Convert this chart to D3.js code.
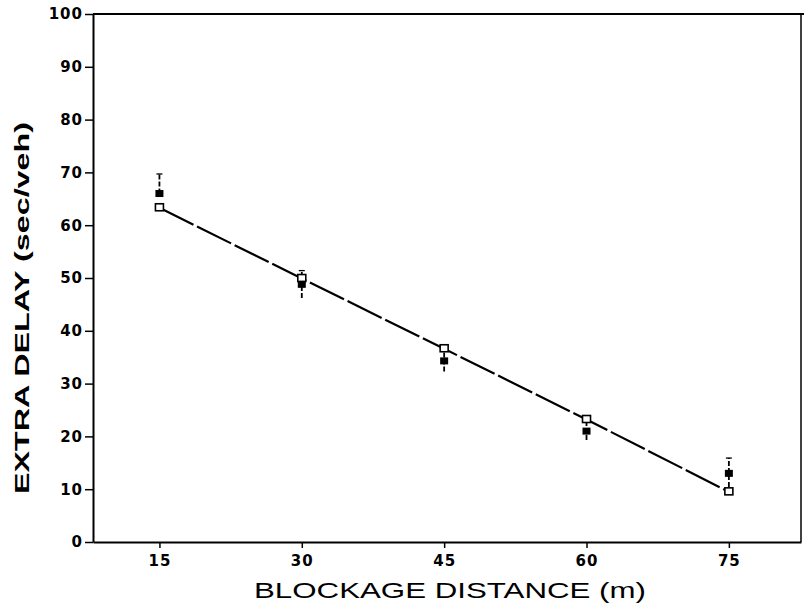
<!DOCTYPE html>
<html><head><meta charset="utf-8">
<script src="https://cdn.jsdelivr.net/npm/d3@7"></script>
<style>body{margin:0;background:#fff;} svg{display:block;}</style>
</head><body>
<svg id="c" width="804" height="606"></svg>
<script>
const distances = [15, 30, 45, 60, 75];
const modelDelay = [63.3, 49.9, 36.6, 23.2, 9.5];
const observedDelay = [66.0, 48.8, 34.3, 21.0, 13.0];
const errLow = [66.0, 46.2, 32.3, 19.3, 10.4];
const errHigh = [69.7, 51.4, 36.6, 23.4, 15.9];
const xTicks = [15, 30, 45, 60, 75];
const yTicks = [0, 10, 20, 30, 40, 50, 60, 70, 80, 90, 100];

const svg = d3.select("#c");
const L = 93, R = 801, T = 14, B = 542;
const x = d3.scaleLinear().domain([8, 82.6]).range([L, R]);
const y = d3.scaleLinear().domain([0, 100]).range([B, T]);
const font = "'Liberation Sans', Arial, sans-serif";
const tickFont = "'DejaVu Sans', sans-serif";

// frame
svg.append("line").attr("x1", L).attr("x2", 804).attr("y1", T).attr("y2", T).attr("stroke", "#000").attr("stroke-width", 2);
svg.append("line").attr("x1", R).attr("x2", R).attr("y1", T).attr("y2", B).attr("stroke", "#000").attr("stroke-width", 1.5);

const gx = svg.append("g").attr("transform", `translate(0,${B})`)
  .call(d3.axisBottom(x).tickValues(xTicks).tickSize(6).tickSizeOuter(0).tickPadding(7));
const gy = svg.append("g").attr("transform", `translate(${L},0)`)
  .call(d3.axisLeft(y).tickValues(yTicks).tickSize(8).tickSizeOuter(0).tickPadding(2));
[gx, gy].forEach(g => {
  g.select(".domain").attr("stroke", "#000").attr("stroke-width", 2);
  g.selectAll(".tick line").attr("stroke", "#000").attr("stroke-width", 1.5);
  g.selectAll(".tick text").attr("fill", "#000").attr("font-family", tickFont)
    .attr("font-size", 15).attr("font-weight", "bold").attr("letter-spacing", 1);
});

// model line (dashed)
const pts = distances.map((d, i) => [x(d), y(modelDelay[i])]);
svg.append("path").attr("d", d3.line()(pts)).attr("fill", "none")
  .attr("stroke", "#000").attr("stroke-width", 2.2).attr("stroke-dasharray", "38,4");

// error bars
distances.forEach((d, i) => {
  svg.append("line").attr("x1", x(d)).attr("x2", x(d)).attr("y1", y(errLow[i])).attr("y2", y(errHigh[i]))
    .attr("stroke", "#000").attr("stroke-width", 1.8).attr("stroke-dasharray", "5,2");
  svg.append("line").attr("x1", x(d) - 3).attr("x2", x(d) + 3).attr("y1", y(errHigh[i])).attr("y2", y(errHigh[i]))
    .attr("stroke", "#000").attr("stroke-width", 1.3);
});

// model markers (open squares)
svg.selectAll("rect.m").data(distances).enter().append("rect")
  .attr("x", d => x(d) - 4).attr("y", (d, i) => y(modelDelay[i]) - 4)
  .attr("width", 8).attr("height", 7).attr("fill", "#fff").attr("stroke", "#000").attr("stroke-width", 1.6);

// observed markers (filled squares)
svg.selectAll("rect.o").data(distances).enter().append("rect")
  .attr("x", d => x(d) - 4).attr("y", (d, i) => y(observedDelay[i]) - 3.5)
  .attr("width", 8).attr("height", 7).attr("fill", "#000");

// axis titles
svg.append("text").attr("x", 450).attr("y", 598).attr("text-anchor", "middle")
  .attr("font-family", font).attr("font-size", 22)
  .attr("textLength", 392).attr("lengthAdjust", "spacingAndGlyphs").text("BLOCKAGE DISTANCE (m)");
svg.append("text").attr("transform", "translate(29,308) rotate(-90)").attr("text-anchor", "middle")
  .attr("font-family", font).attr("font-size", 20).attr("font-weight", "bold")
  .attr("textLength", 372).attr("lengthAdjust", "spacingAndGlyphs").text("EXTRA DELAY (sec/veh)");
</script>
</body></html>
